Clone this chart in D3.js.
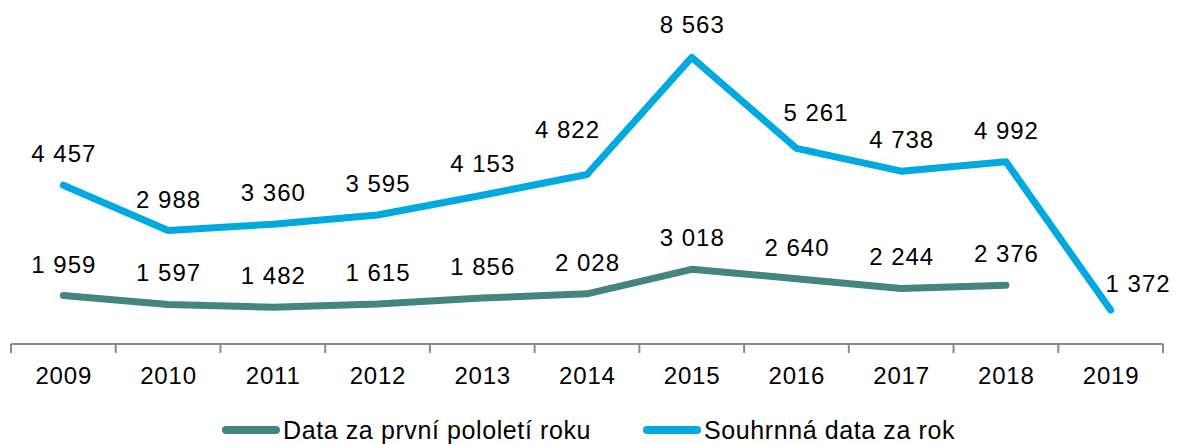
<!DOCTYPE html>
<html>
<head>
<meta charset="utf-8">
<script src="https://cdn.jsdelivr.net/npm/d3@7"></script>
<style>
  body { margin: 0; background: #fff; }
  svg { display: block; font-family: "Liberation Sans", Arial, sans-serif; }
</style>
</head>
<body>
<svg id="Chart" width="1178" height="444"></svg>
<script>
// chart data
var years = ["2009", "2010", "2011", "2012", "2013", "2014", "2015", "2016", "2017", "2018", "2019"];
var firstHalf = [1959, 1597, 1482, 1615, 1856, 2028, 3018, 2640, 2244, 2376, null];
var fullYear = [4457, 2988, 3360, 3595, 4153, 4822, 8563, 5261, 4738, 4992, 1372];
var seriesNames = ["Data za první pololetí roku", "Souhrnná data za rok"];

var colors = {
	firstHalf: "#448481",
	fullYear: "#00a9e0",
	axis: "#898989"
};

// a few labels were nudged by hand in the original chart
var labelShift = {
	"fullYear-5": [-20, -13],
	"fullYear-6": [0, -1],
	"fullYear-7": [19, -4],
	"fullYear-10": [27, 5]
};

var svg = d3.select("#Chart");
var locale = d3.formatLocale({ decimal: ",", thousands: " ", grouping: [3], currency: ["", ""] });
var fmt = locale.format(",d");

// x: one band per year, y: stacked values (blue line sits on top of teal)
var x = d3.scaleBand().domain(years).range([11, 1163]);
var y = d3.scaleLinear().domain([0, 12000]).range([344, 47]);

var stacked = fullYear.map(function(v, i){ return v + (firstHalf[i] || 0); });

var cx = function(i){ return x(years[i]) + x.bandwidth() / 2; };

// x axis with ticks between categories
var axis = svg.append("g").attr("transform", "translate(0,344)");
axis.append("line")
	.attr("x1", 11).attr("x2", 1163)
	.attr("stroke", colors.axis).attr("stroke-width", 2);
axis.selectAll(".tick")
	.data(years.concat(["end"]))
	.enter().append("line")
	.attr("x1", function(d, i){ return i < years.length ? x(years[i]) : x.range()[1]; })
	.attr("x2", function(d, i){ return i < years.length ? x(years[i]) : x.range()[1]; })
	.attr("y1", 0).attr("y2", 9)
	.attr("stroke", colors.axis).attr("stroke-width", 2);
axis.selectAll(".lbl")
	.data(years)
	.enter().append("text")
	.attr("x", function(d, i){ return cx(i) + 0.4; })
	.attr("y", 40)
	.attr("text-anchor", "middle")
	.attr("font-size", 24)
	.attr("letter-spacing", 0.8)
	.attr("fill", "#000")
	.text(function(d){ return d; });

// lines
var line = d3.line()
	.defined(function(d){ return d.v != null; })
	.x(function(d){ return cx(d.i); })
	.y(function(d){ return y(d.v); });

function drawSeries(key, values, labels, color){
	var pts = values.map(function(v, i){ return { key: key, i: i, v: v, label: labels[i] }; });
	svg.append("path")
		.datum(pts)
		.attr("d", line)
		.attr("fill", "none")
		.attr("stroke", color)
		.attr("stroke-width", 7)
		.attr("stroke-linejoin", "round")
		.attr("stroke-linecap", "round");
	return pts;
}

var tealPts = drawSeries("firstHalf", firstHalf, firstHalf, colors.firstHalf);
var bluePts = drawSeries("fullYear", stacked, fullYear, colors.fullYear);

// data labels
function shift(d){ return labelShift[d.key + "-" + d.i] || [0, 0]; }
function drawLabels(pts){
	svg.selectAll(null)
		.data(pts.filter(function(d){ return d.v != null; }))
		.enter().append("text")
		.attr("x", function(d){ return cx(d.i) + shift(d)[0] + 0.5; })
		.attr("y", function(d){ return y(d.v) - 23 + shift(d)[1]; })
		.attr("text-anchor", "middle")
		.attr("font-size", 24)
		.attr("letter-spacing", 1)
		.attr("fill", "#000")
		.text(function(d){ return fmt(d.label); });
}
drawLabels(tealPts);
drawLabels(bluePts);

// legend
var legendItems = [
	{ name: seriesNames[0], color: colors.firstHalf, x: 226 },
	{ name: seriesNames[1], color: colors.fullYear, x: 647 }
];
var legend = svg.selectAll(".legend")
	.data(legendItems)
	.enter().append("g")
	.attr("transform", function(d){ return "translate(" + d.x + ",430)"; });
legend.append("line")
	.attr("x1", 0).attr("x2", 50)
	.attr("stroke", function(d){ return d.color; })
	.attr("stroke-width", 8)
	.attr("stroke-linecap", "round");
legend.append("text")
	.attr("x", 57).attr("y", 9)
	.attr("font-size", 25)
	.attr("letter-spacing", 0.6)
	.attr("fill", "#000")
	.text(function(d){ return d.name; });
</script>
</body>
</html>
